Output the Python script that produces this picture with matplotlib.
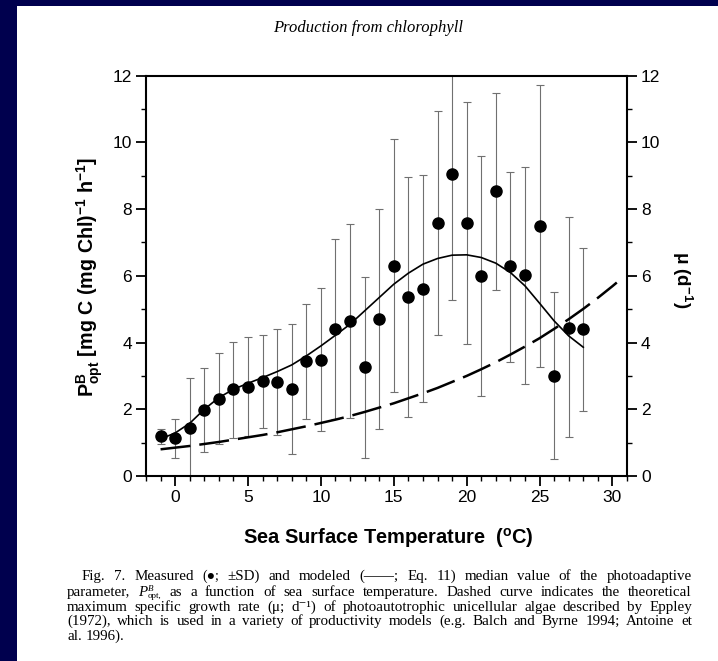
import matplotlib
matplotlib.use("Agg")
import matplotlib.pyplot as plt
from matplotlib.patches import Rectangle
from matplotlib.ticker import MultipleLocator

# ---------------- data ----------------
temps = [-1, 0, 1, 2, 3, 4, 5, 6, 7, 8, 9, 10, 11, 12, 13, 14,
         15, 16, 17, 18, 19, 20, 21, 22, 23, 24, 25, 26, 27, 28]
pbopt_measured = [1.19, 1.15, 1.45, 1.98, 2.32, 2.60, 2.68, 2.85, 2.82, 2.62,
                  3.45, 3.48, 4.41, 4.65, 3.26, 4.72,
                  6.31, 5.38, 5.61, 7.58, 9.05, 7.58, 6.01, 8.55, 6.30, 6.03,
                  7.48, 3.00, 4.45, 4.40]
sd_upper = [1.41, 1.71, 2.95, 3.23, 3.68, 4.03, 4.16, 4.23, 4.42, 4.55,
            5.16, 5.63, 7.10, 7.55, 5.98, 8.00,
            10.09, 8.97, 9.02, 10.95, 12.40, 11.20, 9.59, 11.47, 9.12, 9.27,
            11.72, 5.51, 7.75, 6.83]
sd_lower = [0.96, 0.55, -0.20, 0.73, 0.96, 1.14, 1.21, 1.44, 1.24, 0.67,
            1.71, 1.34, 1.72, 1.74, 0.54, 1.41,
            2.52, 1.78, 2.23, 4.22, 5.28, 3.95, 2.41, 5.58, 3.43, 2.76,
            3.28, 0.51, 1.18, 1.94]

model_t = temps
model_pbopt = [1.11, 1.29, 1.58, 2.00, 2.35, 2.60, 2.78, 2.95, 3.13, 3.33,
               3.60, 3.90, 4.22, 4.55, 4.95, 5.35,
               5.75, 6.08, 6.35, 6.52, 6.62, 6.63, 6.55, 6.38, 6.10, 5.70,
               5.18, 4.65, 4.20, 3.86]

eppley_t = [-1, 0, 1, 2, 3, 4, 5, 6, 7, 8, 9, 10, 11, 12, 13, 14, 15,
            16, 17, 18, 19, 20, 21, 22, 23, 24, 25, 26, 27, 28, 29, 30, 30.3]
eppley_mu = [0.80, 0.85, 0.90, 0.96, 1.02, 1.09, 1.16, 1.23, 1.31, 1.40, 1.49,
             1.59, 1.69, 1.80, 1.92, 2.05, 2.18, 2.33, 2.48, 2.64, 2.82, 3.00,
             3.20, 3.41, 3.64, 3.88, 4.13, 4.41, 4.70, 5.01, 5.34, 5.69, 5.80]

x_ticks = [0, 5, 10, 15, 20, 25, 30]
y_ticks = [0, 2, 4, 6, 8, 10, 12]

title_text = "Production from chlorophyll"
xlabel_text = r"Sea Surface Temperature  ($^{\mathbf{o}}$C)"
ylabel_text = r"P$^{\mathbf{B}}_{\mathbf{opt}}$ [mg C (mg Chl)$^{\mathbf{-1}}$ h$^{\mathbf{-1}}$]"
y2label_text = r"μ (d$^{\mathbf{-1}}$)"
# "<PB>" marks the symbol P with superscript B and subscript opt
caption_lines = [
    "Fig. 7.  Measured (●; ±SD) and modeled (——; Eq. 11) median value of the photoadaptive",
    "parameter, <PB> as a function of sea surface temperature. Dashed curve indicates the theoretical",
    "maximum specific growth rate (μ; d⁻¹) of photoautotrophic unicellular algae described by Eppley",
    "(1972), which is used in a variety of productivity models (e.g. Balch and Byrne 1994; Antoine et",
    "al. 1996).",
]

# ---------------- style ----------------
plt.rcParams["mathtext.fontset"] = "custom"
plt.rcParams["mathtext.rm"] = "Liberation Sans"
plt.rcParams["mathtext.it"] = "Liberation Sans:italic"
plt.rcParams["mathtext.bf"] = "Liberation Sans:bold"
plt.rcParams["font.family"] = ["Liberation Sans", "DejaVu Sans"]

W, H = 718, 661
BG = "#00004e"
fig = plt.figure(figsize=(W / 100, H / 100), dpi=100, facecolor=BG)
fig.patches.append(Rectangle((17 / W, 0), 1 - 17 / W, (H - 6) / H,
                             transform=fig.transFigure, facecolor="white",
                             edgecolor="none", zorder=-10))

def fx(px):
    return px / W

def fy(py):
    return 1 - py / H

ax = fig.add_axes([fx(146), fy(476), (627 - 146) / W, (476 - 75.7) / H])
ax.set_facecolor("none")
ax.set_zorder(2)

yerr_lo = [m - l for m, l in zip(pbopt_measured, sd_lower)]
yerr_hi = [u - m for m, u in zip(pbopt_measured, sd_upper)]
ax.errorbar(temps, pbopt_measured, yerr=[yerr_lo, yerr_hi], fmt="none",
            ecolor="#707070", elinewidth=0.8, capsize=2.6, capthick=0.8,
            zorder=2)
ax.plot(temps, pbopt_measured, "o", color="black", markersize=8, zorder=4)
ax.plot(model_t, model_pbopt, "-", color="black", lw=1.2, zorder=3)
ax.plot(eppley_t, eppley_mu, color="black", lw=1.8, dashes=(12, 3.6), zorder=3)

ax.set_xlim(-2, 31)
ax.set_ylim(0, 12)
ax.set_xticks(x_ticks)
ax.set_yticks(y_ticks)
ax.xaxis.set_minor_locator(MultipleLocator(1))
ax.yaxis.set_minor_locator(MultipleLocator(1))
for s in ax.spines.values():
    s.set_linewidth(1.5)
ax.tick_params(which="major", direction="out", length=7, width=1.3,
               labelsize=12.5, pad=3)
ax.tick_params(which="minor", direction="out", length=3.5, width=1.0)
ax.tick_params(axis="x", which="both", top=False)
ax.tick_params(axis="y", which="both", left=True, right=True,
               labelleft=True, labelright=True)

# texts
fig.text(fx(368), fy(28), title_text, ha="center", va="center",
         family=["Liberation Serif"], style="italic", fontsize=12)
fig.text(fx(388), fy(538), xlabel_text, ha="center", va="center",
         fontsize=14.4, fontweight="bold")
fig.text(fx(90), fy(277), ylabel_text, ha="center", va="center",
         rotation=90, fontsize=14.2, fontweight="bold")
fig.text(fx(682), fy(280), y2label_text, ha="center", va="center",
         rotation=270, fontsize=13.5, fontweight="bold")

# justified caption
renderer = fig.canvas.get_renderer()
SERIF = ["Liberation Serif", "DejaVu Serif"]
cap_kw = dict(fontsize=10.8, family=SERIF, va="baseline", ha="left",
              color="black")


def make_token(word):
    """Return list of (text_artist, dx_px, dy_px) and total width."""
    if word == "<PB>":
        p = fig.text(0, 0, "P", style="italic", **cap_kw)
        kw_small = dict(cap_kw)
        kw_small["fontsize"] = 6.5
        b = fig.text(0, 0, "B", style="italic", **kw_small)
        o = fig.text(0, 0, "opt,", **kw_small)
        wp = p.get_window_extent(renderer).width
        wb = b.get_window_extent(renderer).width
        wo = o.get_window_extent(renderer).width
        return [(p, 0, 0), (b, wp + 0.5, -5), (o, wp + 0.5, 1.5)], wp + 0.5 + max(wb, wo)
    kw = dict(cap_kw)
    if "●" in word:
        kw["fontsize"] = 10.0
    t = fig.text(0, 0, word, **kw)
    return [(t, 0, 0)], t.get_window_extent(renderer).width


baselines = [580, 596, 611, 625, 640]
for i, line in enumerate(caption_lines):
    x0 = 82 if i == 0 else 67
    x1 = 692
    tokens = [make_token(w) for w in line.split()]
    widths = [tw for _, tw in tokens]
    if i == len(caption_lines) - 1:
        gap = 3.5
    else:
        gap = (x1 - x0 - sum(widths)) / max(len(tokens) - 1, 1)
    x = x0
    for parts, w in tokens:
        for art, dx, dy in parts:
            art.set_position((fx(x + dx), fy(baselines[i] + dy)))
        x += w + gap

fig.savefig("out.png", dpi=100, facecolor=BG)
